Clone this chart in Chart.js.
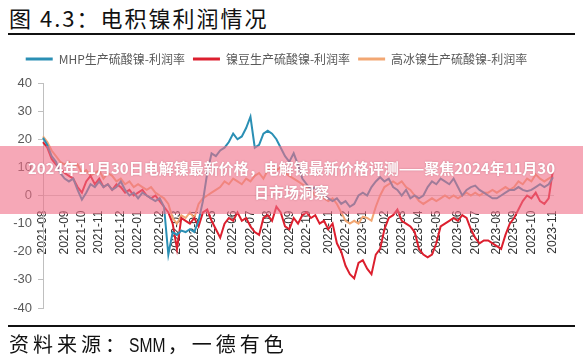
<!DOCTYPE html>
<html>
<head>
<meta charset="utf-8">
<script src="https://cdn.jsdelivr.net/npm/chart.js@4.4.0/dist/chart.umd.min.js"></script>
<style>
  html, body { margin: 0; padding: 0; background: #fff; }
  body { width: 583px; height: 360px; position: relative; overflow: hidden; }
  #wrap { position: absolute; left: 0; top: 0; width: 583px; height: 360px; }
  #title { position: absolute; left: 9px; top: 2px; font-family: "Noto Sans CJK SC", sans-serif; font-size: 22px; letter-spacing: 2px; color: #111; line-height: 30px; white-space: nowrap; }
  .rule { position: absolute; left: 8px; width: 567px; height: 2px; background: #111; }
  #src { position: absolute; left: 9px; top: 330px; font-family: "Noto Sans CJK SC", sans-serif; font-size: 20px; letter-spacing: 4px; color: #111; line-height: 28px; white-space: nowrap; }
  #src span { display: inline-block; font-family: "Liberation Sans", sans-serif; letter-spacing: 0; transform: scaleX(0.78); transform-origin: left center; margin-right: -8px; }
  #band { position: absolute; left: 0; top: 146px; width: 583px; height: 68px; background: rgba(240,110,135,0.6); color: #fff; font-family: "Noto Sans CJK SC", sans-serif; font-weight: bold; font-size: 15px; line-height: 24px; text-align: center; padding-top: 10px; box-sizing: border-box; text-shadow: 0 0 2px rgba(120,40,60,0.35); z-index: 5; white-space: nowrap; }
</style>
</head>
<body>
<div id="title">图 4.3：电积镍利润情况</div>
<div class="rule" style="top:33px"></div>
<div id="wrap"><canvas id="c"></canvas></div>
<div class="rule" style="top:325px"></div>
<div id="src">资料来源：<span>SMM</span>，一德有色</div>
<div id="band">2024年11月30日电解镍最新价格，电解镍最新价格评测——聚焦2024年11月30<br>日市场洞察</div>
<script>
const dates = [
 '2021-08-02','2021-08-09','2021-08-16','2021-08-23','2021-08-30','2021-09-06','2021-09-13','2021-09-20','2021-09-27','2021-10-04',
 '2021-10-11','2021-10-18','2021-10-25','2021-11-01','2021-11-08','2021-11-15','2021-11-22','2021-11-29','2021-12-06','2021-12-13',
 '2021-12-20','2021-12-27','2022-01-03','2022-01-10','2022-01-17','2022-01-24','2022-01-31','2022-02-07','2022-02-14','2022-02-21',
 '2022-02-28','2022-03-07','2022-03-14','2022-03-21','2022-03-28','2022-04-04','2022-04-11','2022-04-18','2022-04-25','2022-05-02',
 '2022-05-09','2022-05-16','2022-05-23','2022-05-30','2022-06-06','2022-06-13','2022-06-20','2022-06-27','2022-07-04','2022-07-11',
 '2022-07-18','2022-07-25','2022-08-01','2022-08-08','2022-08-15','2022-08-22','2022-08-29','2022-09-05','2022-09-12','2022-09-19',
 '2022-09-26','2022-10-03','2022-10-10','2022-10-17','2022-10-24','2022-10-31','2022-11-07','2022-11-14','2022-11-21','2022-11-28',
 '2022-12-05','2022-12-12','2022-12-19','2022-12-26','2023-01-02','2023-01-09','2023-01-16','2023-01-23','2023-01-30','2023-02-06',
 '2023-02-13','2023-02-20','2023-02-27','2023-03-06','2023-03-13','2023-03-20','2023-03-27','2023-04-03','2023-04-10','2023-04-17',
 '2023-04-24','2023-05-01','2023-05-08','2023-05-15','2023-05-22','2023-05-29','2023-06-05','2023-06-12','2023-06-19','2023-06-26',
 '2023-07-03','2023-07-10','2023-07-17','2023-07-24','2023-07-31','2023-08-07','2023-08-14','2023-08-21','2023-08-28','2023-09-04',
 '2023-09-11','2023-09-18','2023-09-25','2023-10-02','2023-10-09','2023-10-16','2023-10-23','2023-10-30','2023-11-06'
];
const seriesNames = ['MHP生产硫酸镍-利润率', '镍豆生产硫酸镍-利润率', '高冰镍生产硫酸镍-利润率'];
const mhpProfit = [
 20.5,18,14,12,8,6,5,6,2,-1.5,
 1,4,3,5,3,4,2,3,5,2,
 0,1,-1,1,0,-1,-2,-1,-4,-21,
 -13,-14,-12.5,-13,-12,-13,-9,-2,8,15,
 14,16,17,19,22,20,21,24,28,17,
 18,22,23,22,20,17,14,12,15,11,
 6,4,2,3,1,0,-1,-2,-1,-3,
 -2,-4,-3,0,1,0,3,5,6.5,5,
 6,3,2,0,2,-1,0,-1,0,3,
 5,4,6,5,4,6,3,0,2,3,
 3.5,2,1,0,-1,-1,0,1,2,2,
 3,2,1.5,2,3,4,3,4,6.5
];
const beanProfit = [
 19,17,13,11,10,8,7,6,3,1,
 5,7,4,6,3,4,2,4,3,1,
 2,0,1,2,0,-1,0,-2,-4,-6,
 -10,-19,-8,-9,-10,-8,-11,-6,-5,-9,
 -12,-15,-10,-8,-9,-6,-9,-8,-11,-13,
 -14,-8,-7,-9,-4,-6,-11,-12,-8,-10,
 -7,-6,-8,-7,-10,-9,-12,-10,-17,-20,
 -25,-28,-29.5,-24,-23,-26,-28,-21,-19,-12,
 -8,-7,-5,-9,-10,-11,-13,-19,-21,-22,
 -21,-17,-11,-10,-9,-8,-9,-7,-8,-12,
 -15,-17,-16,-16,-17,-18,-19,-14,-10,-8,
 -5,-2,0,-1,1,-2,-3,-1,9
];
const matteProfit = [
 21,19,16,14,12,11,12,10,11,8,
 9,7,8,9,6,8,7,5,6,4,
 5,3,4,3,2,3,1,0,-1,-3,
 -8,-10,-7,-8,-6,-8,-3,-1,0,1,
 2,3,5,4,6,5,4,6,5,7,
 8,6,9,10,9,10,8,7,6,5,
 4,3,2,0,1,-1,-2,-1,-3,-6,
 -9,-10,-9,-10,-7.5,-8,-9,-4,0,3,
 4,5,4,5,3,2,0,-2,-3,-2,
 -1,-2,-1,0,-1,0,-1,0,1,0,
 1,0,1,1,2,1,2,3,2,3,
 5,4,6,5,7.5,6,5,6,7
];
const yMin = -40, yMax = 40, yStep = 10;
const colors = ['#2a8fb4', '#dc1f2e', '#f2a773'];

const legendSpacer = {
  id: 'legendSpacer',
  beforeInit(chart) {
    const origFit = chart.legend.fit;
    chart.legend.fit = function () {
      origFit.bind(chart.legend)();
      this.height += 8;
    };
  }
};

const series = [mhpProfit, beanProfit, matteProfit];
new Chart(document.getElementById('c'), {
  type: 'line',
  data: {
    labels: dates,
    datasets: series.map((d, i) => ({
      label: seriesNames[i],
      data: d,
      borderColor: colors[i],
      backgroundColor: colors[i],
      borderWidth: 2,
      pointRadius: 0,
      pointStyle: 'line',
      tension: 0,
      fill: false
    }))
  },
  options: {
    responsive: true,
    maintainAspectRatio: false,
    animation: false,
    devicePixelRatio: 1,
    layout: { padding: { top: 45, right: 30, bottom: 52, left: 0 } },
    plugins: {
      legend: {
        position: 'top',
        labels: {
          usePointStyle: true,
          pointStyle: 'line',
          pointStyleWidth: 27,
          padding: 8,
          color: '#595959',
          font: { family: 'Noto Sans CJK SC', size: 12 },
          generateLabels(chart) {
            const items = Chart.defaults.plugins.legend.labels.generateLabels(chart);
            items.forEach(it => { it.lineWidth = 3; });
            return items;
          }
        }
      },
      tooltip: { enabled: false }
    },
    scales: {
      x: {
        type: 'category',
        position: { y: 0 },
        offset: false,
        grid: { display: false },
        border: { display: true, color: '#d0d0d0', width: 1 },
        ticks: {
          autoSkip: false,
          minRotation: 90,
          maxRotation: 90,
          padding: 7,
          color: '#333',
          font: { family: 'Liberation Sans', size: 12 },
          callback: function (value, index) {
            const d = dates[index];
            return parseInt(d.slice(8, 10), 10) <= 7 ? d.slice(0, 7) : '';
          }
        }
      },
      y: {
        position: 'left',
        min: yMin,
        max: yMax,
        afterFit(scale) { scale.width = 43; },
        grid: { drawOnChartArea: false, drawTicks: true, tickLength: 5, color: '#bfbfbf' },
        border: { display: true, color: '#bfbfbf', width: 1 },
        ticks: {
          stepSize: yStep,
          padding: 6,
          color: '#595959',
          font: { family: 'Liberation Sans', size: 13 }
        }
      }
    }
  },
  plugins: [legendSpacer]
});
</script>
</body>
</html>
